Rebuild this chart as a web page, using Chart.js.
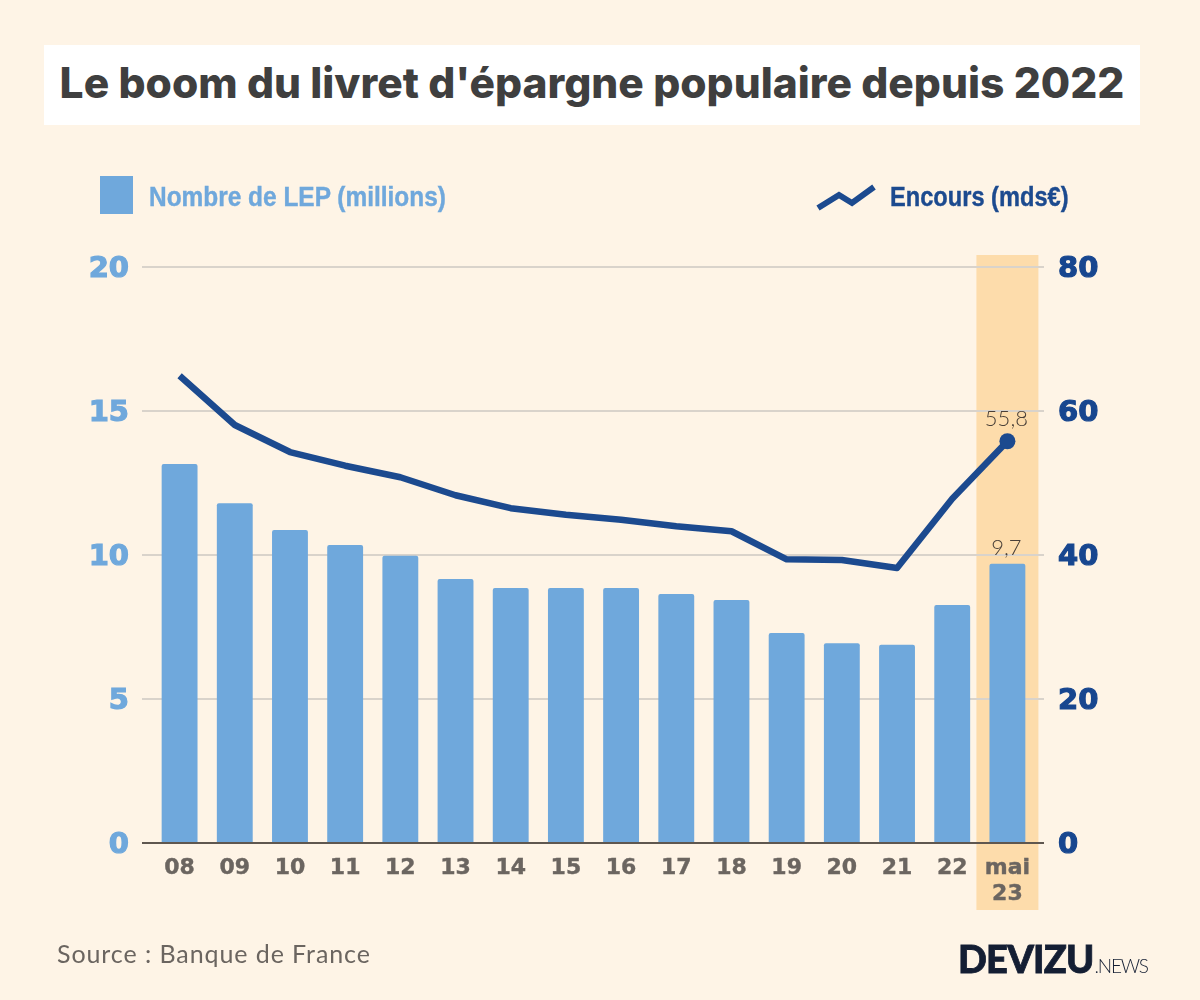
<!DOCTYPE html>
<html>
<head>
<meta charset="utf-8">
<title>Le boom du livret d'épargne populaire depuis 2022</title>
<script src="https://cdn.jsdelivr.net/npm/chart.js"></script>
<style>
html,body{margin:0;padding:0;background:#fef4e6;}
#wrap{position:relative;width:1200px;height:1000px;overflow:hidden;background:#fef4e6;}
canvas{position:absolute;left:0;top:0;}
.abs{position:absolute;white-space:nowrap;}
#title{left:44px;top:45px;width:1096px;height:80px;line-height:76px;background:#fff;text-align:center;
  font-family:Inter;font-weight:800;font-size:42.5px;color:#3f3f3f;}
#sq{left:100px;top:176px;width:33px;height:38px;background:#6fa8dc;}
.leg{font-family:"Liberation Sans";font-weight:700;font-size:27px;line-height:40px;top:177px;transform-origin:left center;-webkit-text-stroke:.4px;}
#leg1{left:149px;color:#6fa8dc;transform:scaleX(.905);}
#leg2{left:890px;color:#1c4a8f;transform:scaleX(.875);}
#icon{left:816px;top:184px;}
#source{left:57px;top:938px;font-family:Lato;font-size:25px;line-height:30px;color:#6b6560;letter-spacing:.92px;}
#logo{left:958px;top:936px;font-family:Lato;font-weight:900;font-size:38px;line-height:44px;color:#141e33;-webkit-text-stroke:.8px #141e33;letter-spacing:-.8px;}
#logo span{font-weight:300;font-size:19px;margin-left:1px;letter-spacing:-1.2px;-webkit-text-stroke:0;}
</style>
</head>
<body>
<div id="wrap">
<canvas id="chart" width="1200" height="1000"></canvas>
<div id="title" class="abs">Le boom du livret d'épargne populaire depuis 2022</div>
<div id="sq" class="abs"></div>
<div id="leg1" class="abs leg">Nombre de LEP (millions)</div>
<svg id="icon" class="abs" width="60" height="28"><polyline points="2,24 23,11 36,19 58,3" fill="none" stroke="#1c4a8f" stroke-width="6"/></svg>
<div id="leg2" class="abs leg">Encours (mds€)</div>
<div id="source" class="abs">Source : Banque de France</div>
<div id="logo" class="abs">DEVIZU<span>.NEWS</span></div>
</div>

<script>
// ================= DATA =================
const years = ["08","09","10","11","12","13","14","15","16","17","18","19","20","21","22",["mai","23"]];
const nombreLep = [13.16,11.8,10.87,10.35,9.97,9.17,8.85,8.85,8.85,8.65,8.44,7.29,6.94,6.88,8.26,9.7];
const encours = [64.9,58.05,54.3,52.4,50.8,48.3,46.5,45.6,44.9,44,43.3,39.4,39.3,38.2,47.8,55.8];
const lastLabels = ["9,7","55,8"];

const last = years.length-1;

// ================= PLUGINS =================
const band = {
  id:"band",
  beforeDraw(chart){
    const c = chart.ctx;
    const x = chart.scales.x.getPixelForValue(last);
    const top = chart.scales.y.getPixelForValue(20)-12;
    c.save();
    c.fillStyle = "#fddcab";
    c.fillRect(x-31,top,62,910-top);
    c.restore();
  }
};

const endLabels = {
  id:"endLabels",
  afterDatasetsDraw(chart){
    const c = chart.ctx;
    c.save();
    c.font = "300 22px Lato";
    c.fillStyle = "#4a4038";
    c.textAlign = "center";
    c.textBaseline = "alphabetic";
    const bar = chart.getDatasetMeta(0).data[last];
    const pt = chart.getDatasetMeta(1).data[last];
    c.fillText(lastLabels[0],bar.x-1,bar.y-9);
    c.fillText(lastLabels[1],pt.x-1,pt.y-15);
    c.restore();
  }
};

// empty first line + small line height = pushes the number down 2px onto its grid line
const nudged = v => ["",String(v)];

// ================= CHART =================
new Chart(document.getElementById("chart"),{
  data:{
    labels:years,
    datasets:[
      {type:"bar",label:"Nombre de LEP (millions)",data:nombreLep,yAxisID:"y",order:2,
       backgroundColor:"#6fa8dc",barPercentage:.65,categoryPercentage:1,borderRadius:2},
      {type:"line",label:"Encours (mds€)",data:encours,yAxisID:"y2",order:1,
       borderColor:"#1c4a8f",backgroundColor:"#1c4a8f",borderWidth:6.5,tension:0,
       borderJoinStyle:"round",pointRadius:c=>c.dataIndex===last?8:0,pointBorderWidth:0}
    ]
  },
  options:{
    responsive:false,
    animation:false,
    devicePixelRatio:1,
    layout:{padding:{top:267,bottom:0,left:0,right:0}},
    plugins:{legend:{display:false},tooltip:{enabled:false}},
    scales:{
      x:{
        grid:{display:false},
        border:{display:false},
        ticks:{color:"#6b6560",font:{family:"DejaVu Sans",weight:"bold",size:22},padding:4,maxRotation:0,autoSkip:false,
          textStrokeColor:"#6b6560",textStrokeWidth:.4},
        afterFit(s){s.height=157;}
      },
      y:{
        position:"left",min:0,max:20,
        border:{display:false},
        grid:{color:c=>c.tick.value===0?"#5f574f":"#d9d3cb",lineWidth:2,tickLength:10},
        ticks:{stepSize:5,color:"#6fa8dc",font:{family:"DejaVu Sans",weight:"bold",size:29,lineHeight:"4px"},padding:13,callback:nudged,
          textStrokeColor:"#6fa8dc",textStrokeWidth:1.2},
        afterFit(s){s.width=152;}
      },
      y2:{
        position:"right",min:0,max:80,
        border:{display:false},
        grid:{drawOnChartArea:false,color:c=>c.tick.value===0?"#5f574f":"#d9d3cb",lineWidth:2,tickLength:9},
        ticks:{stepSize:20,color:"#17468f",font:{family:"DejaVu Sans",weight:"bold",size:29,lineHeight:"4px"},padding:14,callback:nudged,
          textStrokeColor:"#17468f",textStrokeWidth:1.2},
        afterFit(s){s.width=165;}
      }
    }
  },
  plugins:[band,endLabels]
});
</script>
</body>
</html>
